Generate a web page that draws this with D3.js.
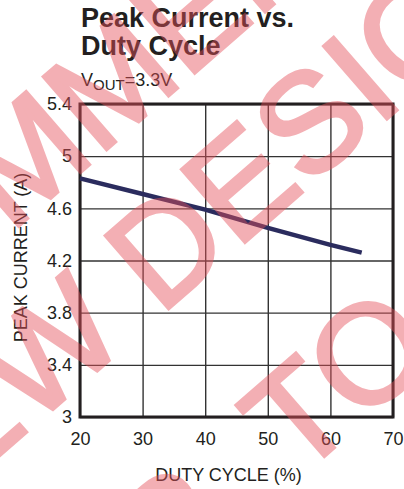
<!DOCTYPE html>
<html>
<head>
<meta charset="utf-8">
<script src="https://cdn.jsdelivr.net/npm/d3@7"></script>
<style>
  body { margin: 0; background: #fff; }
  svg { display: block; font-family: "Liberation Sans", Arial, Helvetica, sans-serif; }
</style>
</head>
<body>
<div id="chart"></div>
<script>
// values
const dutyCycle = [20, 30, 40, 50, 60, 65];
const peakCurrent = [4.83, 4.71, 4.59, 4.45, 4.32, 4.26];
const xTicks = [20, 30, 40, 50, 60, 70];
const yTicks = [3, 3.4, 3.8, 4.2, 4.6, 5, 5.4];
const titleLines = ["Peak Current vs.", "Duty Cycle"];
const watermarkLines = ["NOT RECOMMENDED", "FOR NEW DESIGNS,", "REFER TO MP"];

const W = 404, H = 489;
const margin = { top: 104, right: 11, bottom: 72, left: 80 },
    width = W - margin.left - margin.right,
    height = H - margin.top - margin.bottom;

const ink = "#231f20";

const svg = d3.select("#chart")
    .append("svg")
    .attr("width", W)
    .attr("height", H);

// title + condition
svg.append("text")
    .attr("font-size", 27)
    .attr("font-weight", "bold")
    .attr("fill", ink)
    .selectAll("tspan")
    .data(titleLines)
    .join("tspan")
    .attr("x", 81)
    .attr("y", (d, i) => 27 + i * 28)
    .text(d => d);

const cond = svg.append("text")
    .attr("x", 81)
    .attr("y", 86)
    .attr("font-size", 18)
    .attr("fill", ink);
cond.append("tspan").text("V");
cond.append("tspan").attr("font-size", 15).attr("dy", 4).text("OUT");
cond.append("tspan").attr("dy", -4).text("=3.3V");

const g = svg.append("g")
    .attr("transform", `translate(${margin.left},${margin.top})`);

const x = d3.scaleLinear().domain([20, 70]).range([0, width]);
const y = d3.scaleLinear().domain([3, 5.4]).range([height, 0]);

// grid via axes
const xAxis = d3.axisBottom(x)
    .tickValues(xTicks)
    .tickFormat(d3.format("d"))
    .tickSize(-height)
    .tickPadding(15);

const yAxis = d3.axisLeft(y)
    .tickValues(yTicks)
    .tickFormat(d => d)
    .tickSize(-width)
    .tickPadding(8);

const gx = g.append("g")
    .attr("transform", `translate(0,${height})`)
    .call(xAxis);
const gy = g.append("g").call(yAxis);

[gx, gy].forEach(a => {
    a.select(".domain").remove();
    a.selectAll("line").attr("stroke", "#333").attr("stroke-width", 1.4);
    a.selectAll("text")
        .attr("fill", ink)
        .attr("font-size", 18)
        .attr("font-family", "Liberation Sans, Arial, sans-serif");
});

// plot frame
g.append("rect")
    .attr("width", width)
    .attr("height", height)
    .attr("fill", "none")
    .attr("stroke", ink)
    .attr("stroke-width", 3);

// curve
const pts = dutyCycle.map((d, i) => [d, peakCurrent[i]]);
g.append("path")
    .datum(pts)
    .attr("fill", "none")
    .attr("stroke", "#2b2c5e")
    .attr("stroke-width", 4.5)
    .attr("d", d3.line().x(d => x(d[0])).y(d => y(d[1])));

// axis titles
svg.append("text")
    .attr("x", margin.left + width / 2 - 8)
    .attr("y", 481)
    .attr("text-anchor", "middle")
    .attr("font-size", 18)
    .attr("fill", ink)
    .text("DUTY CYCLE (%)");

svg.append("text")
    .attr("transform", `translate(27,${margin.top + height / 2 - 3}) rotate(-90)`)
    .attr("text-anchor", "middle")
    .attr("font-size", 18)
    .attr("fill", ink)
    .text("PEAK CURRENT (A)");

// watermark: big pink rotated lines, each anchored on one letter's baseline-left
const wmAngle = -41;
const wmAnchors = [
    { idx: 9, px: 98, py: 157, ws: 0 },    // second M of RECOMMENDED
    { idx: 8, px: 160, py: 316, ws: 0 },   // D of DESIGNS
    { idx: 6, px: 297, py: 480, ws: 40 }   // T of TO
];
const wm = svg.append("g")
    .attr("class", "watermark")
    .attr("opacity", 0.45);
watermarkLines.forEach((line, i) => {
    const a = wmAnchors[i];
    const t = wm.append("text")
        .attr("transform", `translate(${a.px},${a.py}) rotate(${wmAngle})`)
        .attr("font-size", 140)
        .attr("fill", "rgb(230,80,90)")
        .attr("stroke", "rgb(230,80,90)")
        .attr("stroke-width", 3.5)
        .style("word-spacing", a.ws + "px")
        .text(line);
    const off = t.node().getSubStringLength(0, a.idx);
    t.attr("x", -off);
});
</script>
</body>
</html>
